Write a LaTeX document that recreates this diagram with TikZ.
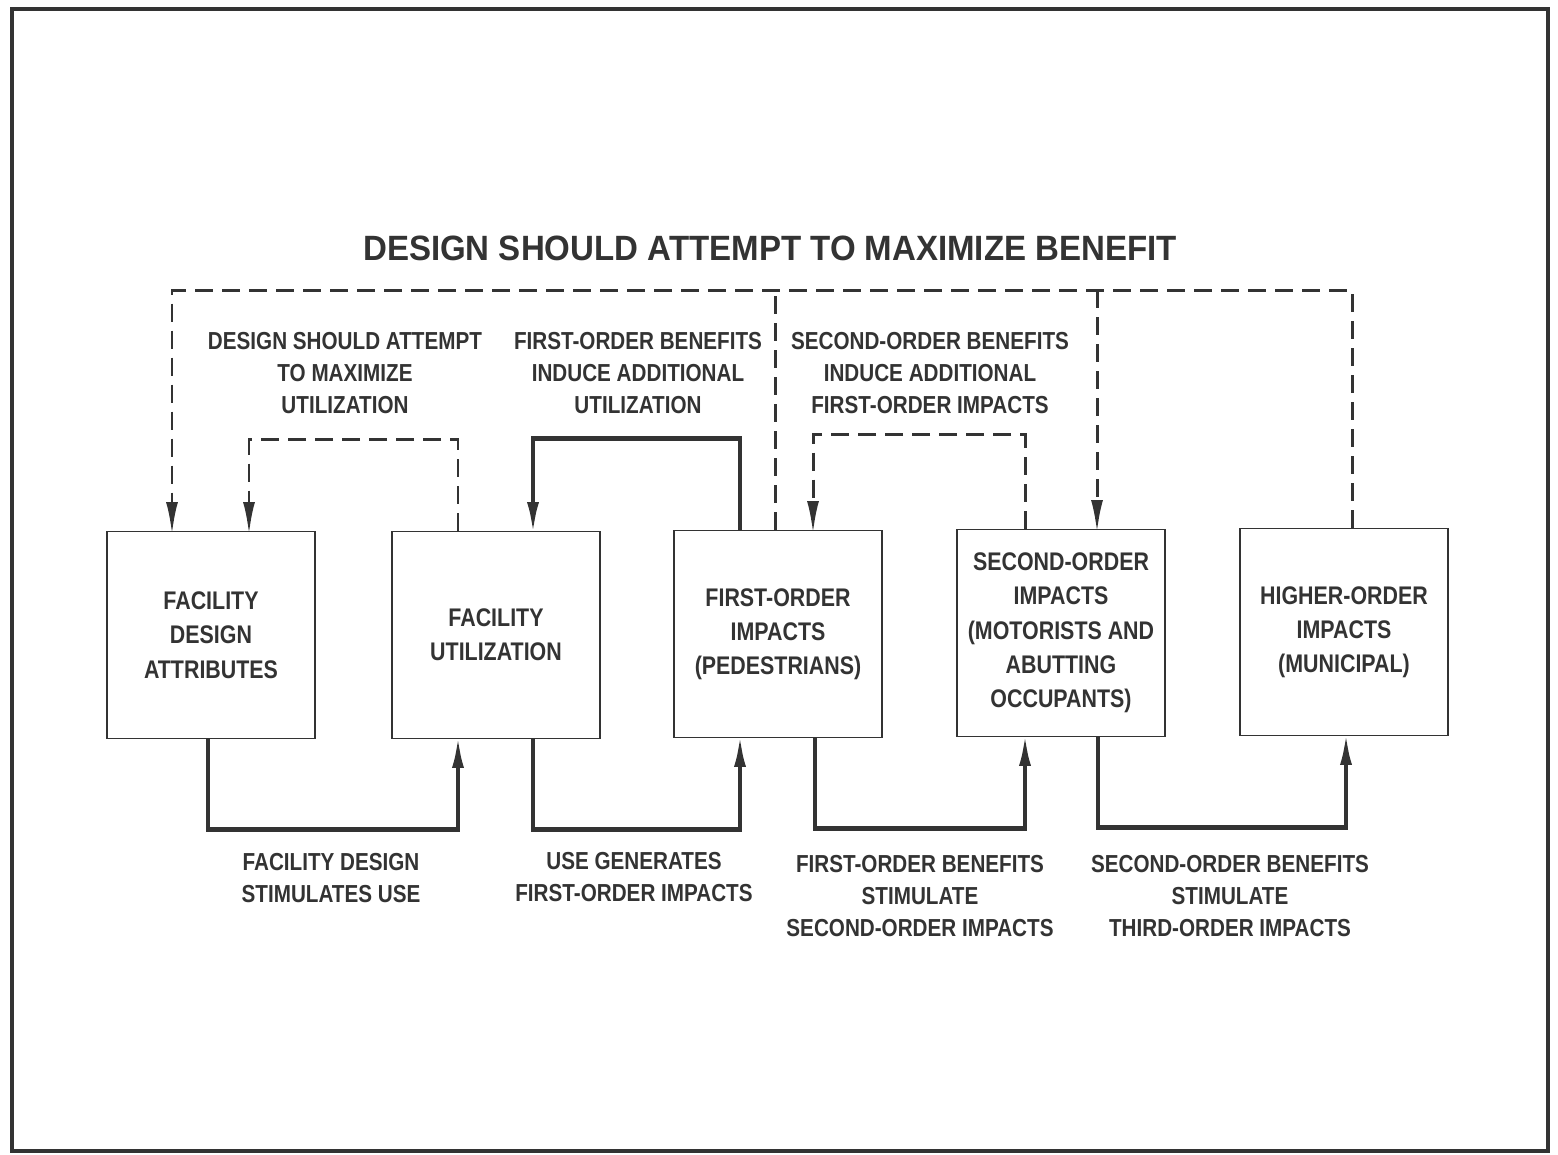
\documentclass[tikz,border=0pt]{standalone}
\usepackage{fontspec}
\setmainfont{Liberation Sans}[FakeStretch=0.84]
\newfontfamily\headfont{Liberation Sans}[FakeStretch=0.94]
\usepackage{xcolor}
\definecolor{ink}{rgb}{0.2,0.2,0.2}
\usetikzlibrary{arrows.meta}

\begin{document}
\begin{tikzpicture}[x=0.2mm, y=-0.2mm,
  block/.style={draw=ink, line width=1.1pt, minimum width=41.6mm, minimum height=41.4mm, align=center, text=ink, font=\fontsize{14.5}{19.5}\selectfont\bfseries},
  caption/.style={align=center, text=ink, font=\fontsize{14}{18}\selectfont\bfseries},
  flow/.style={draw=ink, line width=2.4pt, shorten >=-0.8mm, -{Latex[length=6.5mm,width=2.4mm]}},
  feedback/.style={draw=ink, line width=1.7pt, shorten >=-0.8mm, dash pattern=on 3.6mm off 1.8mm, -{Latex[length=6.5mm,width=2.4mm]}}]

\useasboundingbox (0,0) rectangle (1558,1154);
\draw[ink, line width=2.2pt] (12,9) rectangle (1548,1151);

\node[text=ink, font=\headfont\fontsize{20}{24}\selectfont\bfseries] (title) at (770,248) {DESIGN SHOULD ATTEMPT TO MAXIMIZE BENEFIT};

\node[block] (design) at (211,635) {FACILITY\\DESIGN\\ATTRIBUTES};
\node[block] (usage) at (496,635) {FACILITY\\UTILIZATION};
\node[block] (first) at (778,634) {FIRST-ORDER\\IMPACTS\\(PEDESTRIANS)};
\node[block] (second) at (1061,633) {SECOND-ORDER\\IMPACTS\\(MOTORISTS AND\\ABUTTING\\OCCUPANTS)};
\node[block] (higher) at (1344,632) {HIGHER-ORDER\\IMPACTS\\(MUNICIPAL)};

\node[caption] (maxuse) at (345,373) {DESIGN SHOULD ATTEMPT\\TO MAXIMIZE\\UTILIZATION};
\node[caption] (induceuse) at (638,373) {FIRST-ORDER BENEFITS\\INDUCE ADDITIONAL\\UTILIZATION};
\node[caption] (inducefirst) at (930,373) {SECOND-ORDER BENEFITS\\INDUCE ADDITIONAL\\FIRST-ORDER IMPACTS};
\node[caption] (stimuse) at (331,878) {FACILITY DESIGN\\STIMULATES USE};
\node[caption] (generates) at (634,877) {USE GENERATES\\FIRST-ORDER IMPACTS};
\node[caption] (stimsecond) at (920,896) {FIRST-ORDER BENEFITS\\STIMULATE\\SECOND-ORDER IMPACTS};
\node[caption] (stimthird) at (1230,896) {SECOND-ORDER BENEFITS\\STIMULATE\\THIRD-ORDER IMPACTS};

% forward chain below the boxes
\draw[flow] ([xshift=-0.6mm]design.south) -- ++(0,90) -| ([xshift=-7.6mm]usage.south);
\draw[flow] ([xshift=7.4mm]usage.south) -- ++(0,90) -| ([xshift=-7.6mm]first.south);
\draw[flow] ([xshift=7.4mm]first.south) -- ++(0,90) -| ([xshift=-7.2mm]second.south);
\draw[flow] ([xshift=7.4mm]second.south) -- ++(0,90) -| ([xshift=0.4mm]higher.south);

% loops above the boxes
\draw[feedback] ([xshift=-7.6mm]usage.north) -- ++(0,-91) -| ([xshift=7.6mm]design.north);
\draw[flow] ([xshift=-7.6mm]first.north) -- ++(0,-91) -| ([xshift=7.4mm]usage.north);
\draw[feedback] ([xshift=-7.2mm]second.north) -- ++(0,-94) -| ([xshift=7mm]first.north);

\coordinate (toprow) at (0,290);
\draw[feedback] ([xshift=1.6mm]higher.north) -- ([xshift=1.6mm]higher.north |- toprow) -| ([xshift=-7.8mm]design.north);
\draw[feedback, -, shorten >=0pt] ([xshift=-0.6mm]first.north) -- ([xshift=-0.6mm]first.north |- toprow);
\draw[feedback] ([xshift=7.2mm]second.north |- toprow) -- ([xshift=7.2mm]second.north);
\end{tikzpicture}
\end{document}
